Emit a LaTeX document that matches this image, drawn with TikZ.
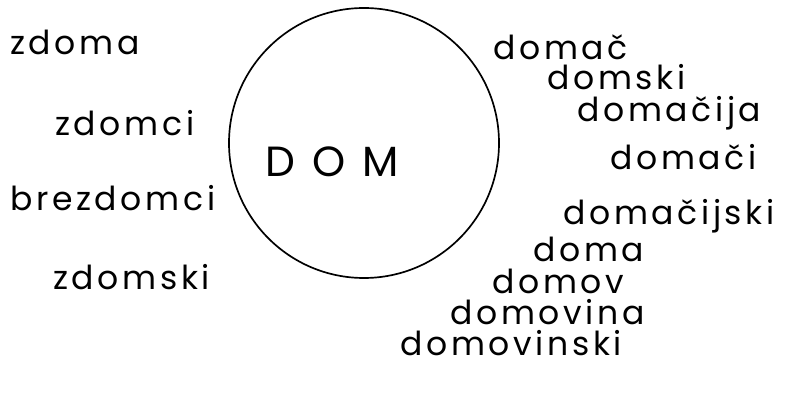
\documentclass[tikz,border=0pt]{standalone}
\usepackage{fontspec}
\usetikzlibrary{positioning}
\usetikzlibrary{shapes.geometric}
\newfontfamily\roka{Poppins}[LetterSpace=11]
\newfontfamily\rokaD{Poppins}[LetterSpace=40]

\begin{document}
\begin{tikzpicture}[every node/.style={inner sep=0pt}]
    \useasboundingbox[fill=white] (0,0) rectangle (20.05,9.9);
    \tikzset{beseda/.style={anchor=base west, font=\roka\fontsize{23.5}{24}\selectfont}}
    % krog in sredina
    \node[circle, draw, line width=1.2pt, minimum size=6.75cm] (krog) at (9.1,6.325) {};
    \node[anchor=base, font=\rokaD\fontsize{30}{30}\selectfont] (dom) at (8.3,5.475) {DOM};
    % levo
    \foreach \w/\x/\y [count=\i] in {zdoma/0.25/8.525, zdomci/1.375/6.5, brezdomci/0.25/4.625, zdomski/1.325/2.65} {
        \node[beseda] (l\i) at (\x,\y) {\w};
    }
    % desno
    \foreach \w/\x/\y [count=\i] in {domač/12.325/8.4, domski/13.675/7.65, domačija/14.425/6.85,
        domači/15.25/5.65, domačijski/14.075/4.275, doma/13.325/3.35, domov/12.3/2.56,
        domovina/11.25/1.775, domovinski/10.0/1.0} {
        \node[beseda] (d\i) at (\x,\y) {\w};
    }
\end{tikzpicture}
\end{document}
